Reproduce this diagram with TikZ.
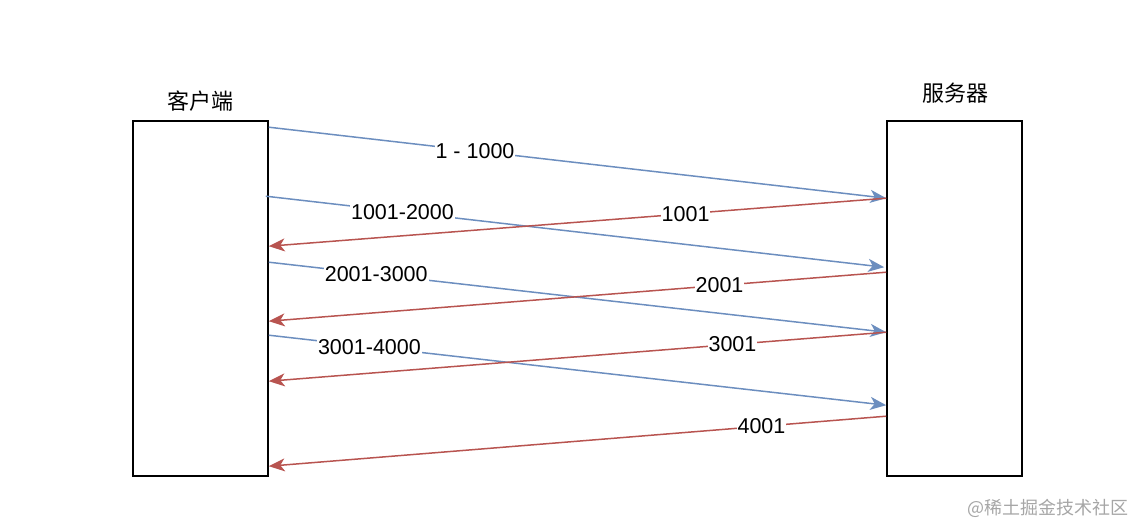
\documentclass[tikz,border=0pt]{standalone}
\usepackage{fontspec}
\setmainfont{Liberation Sans}
\newfontfamily\cjk{Noto Sans CJK SC}
\usetikzlibrary{arrows.meta}
\definecolor{bl}{HTML}{6C8EBF}
\definecolor{rd}{HTML}{B85450}
\tikzset{
  x=1pt,y=-1pt,
  box/.style={draw=black,line width=1.6pt,fill=white,minimum width=135pt,minimum height=355pt,inner sep=0pt},
  title/.style={font=\cjk\fontsize{22}{26}\selectfont,inner sep=0pt},
  lbl/.style={font=\fontsize{21.5}{25}\selectfont,fill=white,inner sep=1pt},
  tip/.style={-{Stealth[length=16pt,width=13pt,inset=4.5pt]}},
  req/.style={tip,draw=bl,line width=1.5pt},
  ack/.style={tip,draw=rd,line width=1.5pt},
}
\begin{document}
\begin{tikzpicture}
\useasboundingbox (0,0) rectangle (1134,525);
\node[box] (c) at (200.5,298.5) {};
\node[box] (s) at (954.5,298.5) {};
\node[title] (ct) at (200,101) {客户端};
\node[title] (st) at (955,93) {服务器};
% requests
\draw[req] ([yshift=-7pt]c.north east) -- node[lbl,pos=0.334] (l1) {1 - 1000} ([yshift=-78pt]s.north west);
\draw[req] ([xshift=-3pt,yshift=-76pt]c.north east) -- node[lbl,pos=0.221] (l2) {1001-2000} ([xshift=-2pt,yshift=-147pt]s.north west);
\draw[req] ([yshift=-142pt]c.north east) -- node[lbl,pos=0.174] (l3) {2001-3000} ([yshift=-212pt]s.north west);
\draw[req] ([yshift=-215pt]c.north east) -- node[lbl,pos=0.163] (l4) {3001-4000} ([yshift=-285pt]s.north west);
% acks
\draw[ack] ([yshift=-78pt]s.north west) -- node[lbl,pos=0.325] (a1) {1001} ([yshift=-126pt]c.north east);
\draw[ack] ([yshift=-152pt]s.north west) -- node[lbl,pos=0.27] (a2) {2001} ([yshift=-201pt]c.north east);
\draw[ack] ([yshift=-212pt]s.north west) -- node[lbl,pos=0.249] (a3) {3001} ([yshift=-261pt]c.north east);
\draw[ack] ([yshift=-296pt]s.north west) -- node[lbl,pos=0.202] (a4) {4001} ([yshift=-346pt]c.north east);
\node[font=\cjk\fontsize{18}{21}\selectfont,text=black!35,inner sep=0pt] (wm) at (1048,508) {@稀土掘金技术社区};
\end{tikzpicture}
\end{document}
